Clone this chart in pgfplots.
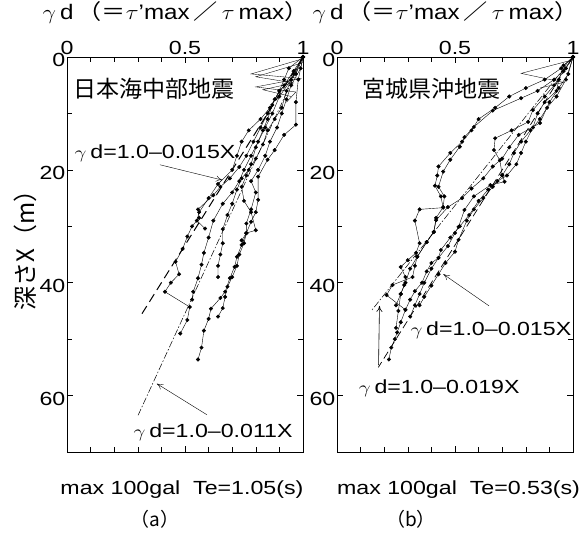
\documentclass[border=0pt]{standalone}
\usepackage{pgfplots}
\pgfplotsset{compat=1.18}
\usepackage{fontspec}
\setmainfont{Liberation Sans}
\newfontfamily\jp{Noto Sans CJK JP}
\usetikzlibrary{arrows.meta}
\newcommand{\wide}[1]{\scalebox{1.22}[1]{#1}}
\newcommand{\toptitle}{\fontsize{21}{25}\selectfont\scalebox{1.15}[1]{$\gamma$\,d\,{\jp （＝}$\tau$'max\,{\jp ／}\,$\tau$\,max{\jp ）}}}
\begin{document}
\fontsize{19}{23}\selectfont
\begin{tikzpicture}
\useasboundingbox (0pt,0pt) rectangle (585pt,-535pt);
\pgfplotsset{
  panel/.style={
    width=236pt, height=395pt, scale only axis,
    xmin=0, xmax=1, ymin=0, ymax=70, y dir=reverse,
    xtick={0,0.5,1}, minor x tick num=4,
    ytick={0,20,40,60}, minor y tick num=1,
    tick align=inside, tick pos=both,
    xticklabel pos=upper,
    major tick length=6pt, minor tick length=5pt,
    tick style={black, line width=0.5pt},
    axis line style={line width=0.6pt},
    clip=false, anchor=north west,
    /pgf/number format/assume math mode=true,
    xticklabel={\wide{\pgfmathprintnumber{\tick}}},
    yticklabel={\wide{\pgfmathprintnumber{\tick}}},
    ticklabel style={font=\fontsize{19}{23}\selectfont, inner sep=1.5pt},
    xticklabel style={yshift=1pt},
    yticklabel style={yshift=-3pt},
  },
  prof/.style={black, line width=0.4pt, mark=*, mark size=1.8pt},
  zig/.style={black, line width=0.35pt, mark=none},
}
% ---------------- (a) ----------------
\begin{axis}[panel, at={(67pt,-57pt)}]
\addplot[zig] coordinates {(1,0.3)(0.78,3)(0.99,3.8)(0.80,5.3)(0.97,6.2)(0.93,8)};
\addplot[zig] coordinates {(1,1)(0.80,3.5)(0.96,4.6)(0.83,5.8)(0.95,7)};
\addplot[prof] coordinates {(1,0)(0.96,2.5)(0.92,5)(0.88,7.5)(0.85,10)(0.82,12.5)(0.79,15)(0.76,17.5)(0.73,19.5)(0.69,21.5)(0.65,23)(0.62,24.5)(0.555,27)(0.56,28.5)(0.53,30)(0.51,31.8)(0.49,34)(0.46,36.3)(0.475,38.5)(0.44,40)(0.415,41.6)(0.52,44.3)(0.51,46.6)(0.48,49)};
\addplot[prof] coordinates {(1,0)(0.97,3)(0.90,6)(0.86,9)(0.82,11)(0.77,13)(0.74,15)(0.72,17.5)(0.70,20)(0.64,22.5)(0.60,25)(0.56,27.5)(0.55,29)(0.585,30.4)};
\addplot[prof] coordinates {(1,0)(0.95,4)(0.90,7)(0.87,10)(0.84,12.5)(0.81,15)(0.78,17.5)(0.75,20)(0.73,22)(0.70,24)(0.66,26)(0.62,29)(0.60,32)(0.58,34.7)(0.57,36.8)(0.555,39.2)(0.535,41.6)(0.53,43)};
\addplot[prof] coordinates {(1,0)(0.99,2)(0.95,5)(0.93,7.5)(0.91,10)(0.89,12.5)(0.86,15)(0.84,17.5)(0.81,20)(0.78,22)(0.80,24)(0.78,27)(0.76,29.5)(0.76,31.2)(0.74,33.3)(0.72,35.4)(0.71,37.2)(0.69,39.2)(0.67,41.6)(0.65,42.7)(0.61,44.6)(0.60,46.4)(0.58,48.5)(0.57,51.5)(0.555,53.6)};
\addplot[prof] coordinates {(1,0)(0.98,4)(0.97,8)(0.97,12)(0.92,13.8)(0.88,16.5)(0.85,18.2)(0.81,21.2)(0.81,25.3)(0.80,27.5)(0.78,29.2)(0.76,31.2)(0.75,33)(0.73,35)(0.72,37)(0.70,39)(0.68,40.7)(0.67,42.5)(0.66,44.5)(0.64,46)};
\addplot[prof] coordinates {(1,0)(0.96,3)(0.93,6)(0.91,9)(0.88,11)(0.85,13)(0.83,15.5)(0.80,18)(0.77,20)(0.74,21.5)(0.72,23.5)(0.70,26)(0.68,28)(0.66,30.5)(0.66,33)(0.65,35)(0.64,37)(0.64,39)};
\addplot[prof] coordinates {(1,0)(0.94,2)(0.92,4)(0.90,6)(0.87,8.5)(0.85,11)(0.83,13)(0.80,16)(0.78,19)(0.76,21)(0.74,23)(0.75,25.5)(0.78,27.5)(0.80,30.7)(0.76,31.2)(0.74,32.5)};
\addplot[black, line width=1pt, dash pattern=on 9pt off 5pt] coordinates {(1,0)(0.31,46)};
\addplot[black, line width=0.5pt, dash pattern=on 7pt off 2pt on 1.5pt off 2pt] coordinates {(1,0)(0.30,63.6)};
\node at (axis cs:0.373,17) {\wide{$\gamma$\,d=1.0\textendash0.015X}};
\draw[-{To[length=6pt,width=6pt]}, line width=0.4pt] (axis cs:0.394,19.1) -- (axis cs:0.657,21.8);
\node at (axis cs:0.619,66.5) {\wide{$\gamma$\,d=1.0\textendash0.011X}};
\draw[-{To[length=6pt,width=6pt]}, line width=0.4pt] (axis cs:0.593,63.4) -- (axis cs:0.381,57.9);
\node[font=\jp\fontsize{23}{26}\selectfont] at (axis cs:0.37,5.7) {日本海中部地震};
\node at (axis cs:0.46,-7.8) {\toptitle};
\node at (axis cs:0.487,76.7) {\wide{max 100gal\ \ Te=1.05(s)}};
\node[font=\jp\fontsize{19}{23}\selectfont] at (axis cs:0.373,82) {（a）};
\node[rotate=90, font=\jp\fontsize{24}{28}\selectfont] at (axis cs:-0.178,33.2) {深さX（m）};
\end{axis}
% ---------------- (b) ----------------
\begin{axis}[panel, at={(337pt,-57pt)}]
\addplot[zig] coordinates {(1,0.5)(0.78,2.9)(0.96,4.5)(0.86,5.5)};
\addplot[prof] coordinates {(1,0)(0.95,2)(0.88,4)(0.80,5.5)(0.73,7)(0.67,9)(0.60,11)(0.57,13)(0.53,15)(0.48,17)(0.43,19.4)(0.425,21)(0.415,22.8)(0.44,24.7)(0.45,26.7)(0.35,27)(0.33,29)(0.35,33)(0.335,34.7)(0.30,36)(0.27,37.2)(0.29,39)(0.285,40.4)(0.27,42)(0.25,44)};
\addplot[prof] coordinates {(1,0)(0.97,2)(0.92,4)(0.85,6)(0.78,7.3)(0.66,9.5)(0.58,12.4)(0.54,14.2)(0.52,15.9)(0.48,18.2)(0.45,20.3)(0.43,23)(0.455,24.7)(0.45,26.6)(0.42,28.5)(0.41,31)(0.38,32.8)(0.34,35.4)(0.33,37)(0.32,39)(0.235,40.4)(0.21,42.2)(0.29,44.8)(0.27,47)(0.255,48.8)(0.245,50)(0.23,51.5)(0.22,53.6)};
\addplot[prof] coordinates {(1,0)(0.96,2.5)(0.92,5)(0.88,7)(0.83,9.4)(0.81,11.5)(0.74,13)(0.67,14.4)(0.665,16.5)(0.69,18.3)(0.70,20.9)(0.71,22.1)(0.65,22.7)(0.58,24.7)(0.54,27.1)(0.515,30.1)(0.50,31.2)(0.47,33.5)(0.43,35.6)(0.40,37.5)(0.37,40)(0.35,42)(0.33,44)(0.31,46)};
\addplot[prof] coordinates {(1,0)(0.98,3)(0.94,5.5)(0.90,8)(0.86,11.7)(0.77,13.8)(0.73,16)(0.70,18)(0.66,19.4)(0.62,21.5)(0.57,23.3)(0.53,25)(0.47,26.6)(0.42,28.9)(0.41,31)(0.38,32.8)(0.34,35.4)(0.31,37.5)(0.29,40)(0.27,42)(0.26,45)(0.25,48)};
\addplot[prof] coordinates {(1,0)(0.97,4)(0.93,7)(0.89,9)(0.86,11)(0.82,13)(0.78,15)(0.75,17)(0.73,19)(0.70,21)(0.66,23)(0.62,25)(0.58,27)(0.55,29)(0.515,32.4)(0.50,34.5)(0.46,36.5)(0.43,38.5)(0.40,40.5)(0.37,42.5)(0.35,44)};
\addplot[prof] coordinates {(1,0)(0.96,1.5)(0.94,4)(0.93,6)(0.88,8)(0.85,10)(0.83,12.5)(0.80,15)(0.78,17)(0.76,19)(0.72,21)(0.68,22)(0.64,23.5)(0.60,25.5)(0.56,28)(0.52,30)(0.48,32)(0.44,34.2)(0.43,35.6)(0.40,36.5)(0.38,38)(0.36,40)(0.33,41.5)(0.31,43)(0.29,44.8)};
\addplot[black, line width=0.7pt, dash pattern=on 8pt off 4pt] coordinates {(1,0)(0.175,55)};
\addplot[black, line width=0.5pt, dash pattern=on 7pt off 2pt on 1.5pt off 2pt] coordinates {(1,0)(0.145,45)};
\node[font=\jp\fontsize{23}{26}\selectfont] at (axis cs:0.40,5.7) {宮城県沖地震};
\node at (axis cs:0.652,48.4) {\wide{$\gamma$\,d=1.0\textendash0.015X}};
\draw[-{To[length=6pt,width=6pt]}, line width=0.4pt] (axis cs:0.644,44.1) -- (axis cs:0.451,38.5);
\node at (axis cs:0.433,58.7) {\wide{$\gamma$\,d=1.0\textendash0.019X}};
\draw[-{To[length=6pt,width=6pt]}, line width=0.6pt] (axis cs:0.176,54.6) -- (axis cs:0.18,44.1);
\node at (axis cs:0.46,-7.8) {\toptitle};
\node at (axis cs:0.515,76.7) {\wide{max 100gal\ \ Te=0.53(s)}};
\node[font=\jp\fontsize{19}{23}\selectfont] at (axis cs:0.313,82) {（b）};
\end{axis}
\end{tikzpicture}
\end{document}
